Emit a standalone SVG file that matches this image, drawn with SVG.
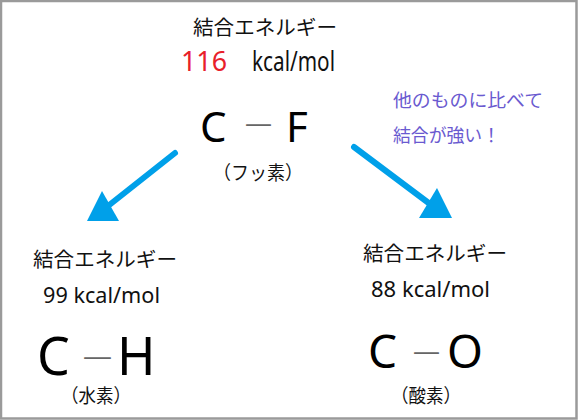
<svg xmlns="http://www.w3.org/2000/svg" width="578" height="420" viewBox="0 0 578 420">
<style>
.jp{font-family:"Noto Sans CJK JP","Noto Sans",sans-serif;fill:#111}
.lat{font-family:"Noto Sans","Liberation Sans",sans-serif;fill:#111}
.atom{font-family:"Noto Sans","Liberation Sans",sans-serif;fill:#000}
.bond{font-family:"Noto Sans","Liberation Sans",sans-serif;fill:#666}
.note{font-family:"Noto Sans CJK JP",sans-serif;fill:#6a5ad0}
.arr{stroke:#00a0e9;stroke-width:6;stroke-linecap:round;fill:none}
.head{fill:#00a0e9}
</style>
<rect x="0" y="0" width="578" height="420" fill="#ffffff"/>
<rect x="1" y="1" width="575.5" height="417.5" fill="none" stroke="#9a9a9a" stroke-width="2.5"/>

<g id="node-CF">
<text class="jp" x="193" y="35" font-size="20" textLength="144" lengthAdjust="spacingAndGlyphs">結合エネルギー</text>
<text class="lat" x="181" y="71" font-size="28" style="fill:#e8202a" textLength="46" lengthAdjust="spacingAndGlyphs">116</text>
<text class="lat" x="252" y="71" font-size="27" textLength="83" lengthAdjust="spacingAndGlyphs">kcal/mol</text>
<text class="atom" x="200" y="142" font-size="42">C</text>
<text class="bond" x="245" y="131" font-size="22" textLength="27" lengthAdjust="spacingAndGlyphs">—</text>
<text class="atom" x="286" y="142" font-size="42">F</text>
<text class="jp" x="213" y="180" font-size="19" textLength="90" lengthAdjust="spacingAndGlyphs">（フッ素）</text>
</g>

<g id="note">
<text class="note" x="393" y="107" font-size="18" textLength="150" lengthAdjust="spacingAndGlyphs">他のものに比べて</text>
<text class="note" x="393" y="142" font-size="18" textLength="107" lengthAdjust="spacingAndGlyphs">結合が強い！</text>
</g>

<g id="node-CH">
<text class="jp" x="33" y="267" font-size="20" textLength="144" lengthAdjust="spacingAndGlyphs">結合エネルギー</text>
<text class="lat" x="43" y="303" font-size="22" textLength="117" lengthAdjust="spacingAndGlyphs">99 kcal/mol</text>
<text class="atom" x="37" y="375" font-size="52">C</text>
<text class="bond" x="83" y="364" font-size="22" textLength="29" lengthAdjust="spacingAndGlyphs">—</text>
<text class="atom" x="117" y="375" font-size="52">H</text>
<text class="jp" x="61" y="403" font-size="19" textLength="70" lengthAdjust="spacingAndGlyphs">（水素）</text>
</g>

<g id="node-CO">
<text class="jp" x="363" y="261" font-size="20" textLength="144" lengthAdjust="spacingAndGlyphs">結合エネルギー</text>
<text class="lat" x="371" y="297" font-size="22" textLength="119" lengthAdjust="spacingAndGlyphs">88 kcal/mol</text>
<text class="atom" x="368" y="368" font-size="46">C</text>
<text class="bond" x="413" y="359" font-size="22" textLength="27" lengthAdjust="spacingAndGlyphs">—</text>
<text class="atom" x="447" y="368" font-size="46">O</text>
<text class="jp" x="391" y="403" font-size="19" textLength="70" lengthAdjust="spacingAndGlyphs">（酸素）</text>
</g>

<g id="connectors">
<line class="arr" x1="175" y1="153" x2="108" y2="206"/>
<polygon class="head" points="87,221 102,191 119,221"/>
<line class="arr" x1="354" y1="147" x2="430" y2="204"/>
<polygon class="head" points="452,218 437,188 419,218"/>
</g>
</svg>
